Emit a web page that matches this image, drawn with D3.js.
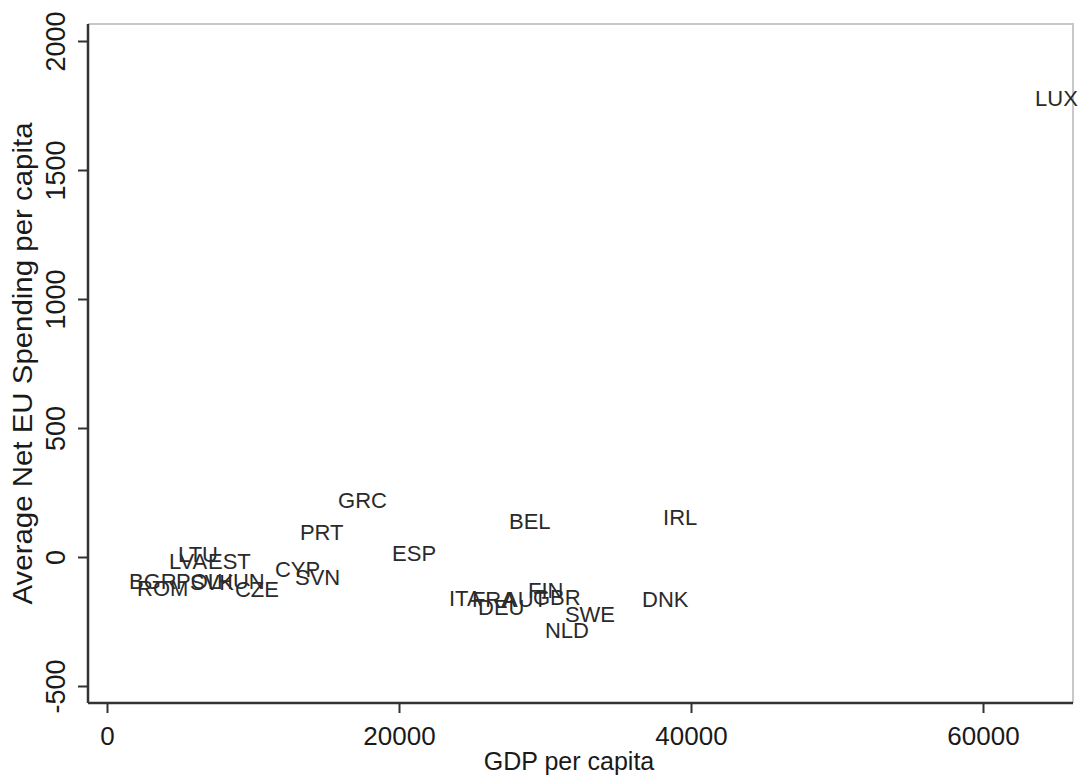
<!DOCTYPE html>
<html>
<head>
<meta charset="utf-8">
<script src="https://cdn.jsdelivr.net/npm/d3@7"></script>
<style>
  body { margin: 0; background: #fff; }
  svg { display: block; font-family: Arial, "Liberation Sans", sans-serif; }
</style>
</head>
<body>
<div id="chart"></div>
<script>
// country codes with GDP per capita and average net EU spending per capita
const countries = ['LUX', 'IRL', 'BEL', 'GRC', 'PRT', 'ESP', 'DNK', 'NLD', 'SWE', 'FIN',
  'GBR', 'AUT', 'FRA', 'ITA', 'DEU', 'CYP', 'SVN', 'CZE', 'HUN', 'SVK',
  'POL', 'BGR', 'ROM', 'LTU', 'LVA', 'EST'];
const gdpPerCapita = [63360, 37880, 27330, 15620, 13010, 19320, 36440, 29790, 31160, 28630,
  28970, 26920, 24790, 23220, 25210, 11300, 12670, 8560, 7330, 5480,
  4520, 1300, 1850, 4660, 4040, 6710];
const netSpending = [1779, 155, 140, 221, 97, 16, -163, -283, -221, -128,
  -155, -163, -163, -159, -194, -47, -78, -124, -93, -97,
  -93, -93, -120, 12, -16, -16];
const xTicks = [0, 20000, 40000, 60000];
const yTicks = [-500, 0, 500, 1000, 1500, 2000];

const data = countries.map((c, i) => ({ code: c, gdp: gdpPerCapita[i], net: netSpending[i] }));

const svgWidth = 1082, svgHeight = 778;
const frame = { left: 88, right: 1073, top: 24, bottom: 703 };

const svg = d3.select('#chart').append('svg')
  .attr('width', svgWidth)
  .attr('height', svgHeight);

const x = d3.scaleLinear().domain([0, 60000]).range([107, 983]);
const y = d3.scaleLinear().domain([-500, 2000]).range([686, 41]);

// plain hyphen for negatives, like the original
const fmt = d => String(d);

// light outer border (top/right)
svg.append('path')
  .attr('d', `M${frame.left},${frame.top}H${frame.right}V${frame.bottom}`)
  .attr('fill', 'none')
  .attr('stroke', '#c8c8c8')
  .attr('stroke-width', 2);

// bottom axis
const xAxis = svg.append('g')
  .attr('transform', `translate(0,${frame.bottom})`)
  .call(d3.axisBottom(x).tickValues(xTicks).tickSize(10).tickFormat(fmt));
xAxis.select('.domain').remove();
xAxis.append('line')
  .attr('x1', frame.left).attr('x2', frame.right)
  .attr('stroke', '#333').attr('stroke-width', 2.5);
xAxis.selectAll('.tick line').attr('stroke', '#333').attr('stroke-width', 2);
xAxis.selectAll('.tick text')
  .attr('fill', '#1a1a1a')
  .attr('font-size', 26)
  .attr('y', 0).attr('dy', 0)
  .attr('transform', 'translate(0,42)');

// left axis
const yAxis = svg.append('g')
  .attr('transform', `translate(${frame.left},0)`)
  .call(d3.axisLeft(y).tickValues(yTicks).tickSize(10).tickFormat(fmt));
yAxis.select('.domain').remove();
yAxis.append('line')
  .attr('y1', frame.top).attr('y2', frame.bottom)
  .attr('stroke', '#333').attr('stroke-width', 2.5);
yAxis.selectAll('.tick line').attr('stroke', '#333').attr('stroke-width', 2);
yAxis.selectAll('.tick text')
  .attr('fill', '#1a1a1a')
  .attr('font-size', 27)
  .attr('x', 0).attr('dy', 0)
  .attr('text-anchor', 'middle')
  .attr('transform', 'translate(-23,0) rotate(-90)');

// axis titles
svg.append('text')
  .attr('x', 569)
  .attr('y', 770)
  .attr('text-anchor', 'middle')
  .attr('font-size', 25)
  .attr('fill', '#1a1a1a')
  .text('GDP per capita');

svg.append('text')
  .attr('transform', `translate(32,${(frame.top + frame.bottom) / 2}) rotate(-90)`)
  .attr('text-anchor', 'middle')
  .attr('font-size', 28)
  .attr('textLength', 482)
  .attr('lengthAdjust', 'spacingAndGlyphs')
  .attr('fill', '#1a1a1a')
  .text('Average Net EU Spending per capita');

// marker labels, placed at 3 o'clock of each (invisible) point
svg.append('g')
  .selectAll('text')
  .data(data)
  .join('text')
  .attr('x', d => x(d.gdp) + 3)
  .attr('y', d => y(d.net))
  .attr('dy', '0.35em')
  .attr('font-size', 22)
  .attr('fill', '#2a2a2a')
  .text(d => d.code);
</script>
</body>
</html>
